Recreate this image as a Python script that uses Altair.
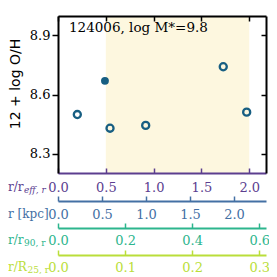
import altair as alt
import pandas as pd

# ---------------- data ----------------
r_open = [0.202, 0.544, 0.917, 1.728, 1.973]
oh_open = [8.499, 8.430, 8.444, 8.740, 8.511]
r_filled = [0.491]
oh_filled = [8.669]
shade_range = [0.5, 2.0]

reff_domain = [0.0, 2.175]
kpc_domain = [0.0, 2.364]
r90_domain = [0.0, 0.62]
r25_domain = [0.0, 0.31]
oh_domain = [8.204, 8.996]

reff_ticks = [0.0, 0.5, 1.0, 1.5, 2.0]
kpc_ticks = [0.0, 0.5, 1.0, 1.5, 2.0]
r90_ticks = [0.0, 0.2, 0.4, 0.6]
r25_ticks = [0.0, 0.1, 0.2, 0.3]
oh_ticks = [8.3, 8.6, 8.9]

annotation = ["124006, log M*=9.8"]
y_title = ["12 + log O/H"]
axis_titles = ["r/r", "r [kpc]", "r/r", "r/R"]
axis_subs = ["eff, r", "", "90, r", "25, r"]

# ---------------- styling ----------------
W, H = 208, 157
SERIF = "DejaVu Serif"
PURPLE = "#5c3e8f"
BLUE = "#4470a4"
GREEN = "#2db58d"
YGREEN = "#bade3a"
PT = "#175e82"
SHADE = "#fdf7df"

axis_colors = [PURPLE, BLUE, GREEN, YGREEN]
axis_offsets = [0, 28, 55, 82]
label_gaps = [8, 7, 6, 6]
title_widths = [15.5, 0, 15.5, 19.0]


def xs(domain):
    return alt.Scale(domain=domain, nice=False, zero=False)


ys = alt.Scale(domain=oh_domain, nice=False, zero=False)


def xaxis(values, color, orient, offset, labels=True, size=5, dw=2, gap=6):
    kw = dict(orient=orient, offset=offset, values=values, grid=False, title=None,
              domainColor=color, domainWidth=dw, tickColor=color, tickWidth=1.5,
              tickSize=size, zindex=2)
    if labels:
        kw.update(labels=True, format=".1f", labelColor=color, labelFont=SERIF,
                  labelFontSize=13, labelBaseline="top", labelPadding=-(size + gap),
                  labelFlush=False, labelOverlap=False, labelAlign="center")
    else:
        kw.update(labels=False)
    return alt.Axis(**kw)


layers = []

# shaded region (carries the purple r/r_eff axis at the bottom, ticks pointing in)
shade = alt.Chart(pd.DataFrame({"x0": [shade_range[0]], "x1": [shade_range[1]]})).mark_rect(
    color=SHADE).encode(
    x=alt.X("x0:Q", scale=xs(reff_domain),
            axis=xaxis(reff_ticks, PURPLE, "top", -H, gap=label_gaps[0])),
    x2="x1:Q",
)
layers.append(shade)

# open points (carry the left y axis)
open_pts = alt.Chart(pd.DataFrame({"r": r_open, "oh": oh_open})).mark_point(
    filled=False, color=PT, strokeWidth=2.3, size=50, opacity=1, shape="circle").encode(
    x=alt.X("r:Q", scale=xs(reff_domain), axis=None),
    y=alt.Y("oh:Q", scale=ys, axis=alt.Axis(
        orient="left", values=oh_ticks, grid=False, title=None, format=".1f",
        domainColor="black", domainWidth=2, tickColor="black", tickWidth=1.5, tickSize=6,
        labelFont=SERIF, labelFontSize=13, labelColor="black", labelPadding=2,
        labelFlush=False, zindex=2)),
)
layers.append(open_pts)

filled_pts = alt.Chart(pd.DataFrame({"r": r_filled, "oh": oh_filled})).mark_circle(
    color=PT, size=62, opacity=1).encode(
    x=alt.X("r:Q", scale=xs(reff_domain), axis=None),
    y=alt.Y("oh:Q", scale=ys, axis=None),
)
layers.append(filled_pts)

# top frame axis (ticks pointing in)
top_axis = alt.Chart(pd.DataFrame({"v": [reff_ticks[0]]})).mark_point(opacity=0).encode(
    x=alt.X("v:Q", scale=xs(reff_domain),
            axis=xaxis(reff_ticks, "black", "bottom", -H, labels=False, dw=2)))
layers.append(top_axis)

# right frame axis (ticks pointing in)
right_axis = alt.Chart(pd.DataFrame({"v": [oh_ticks[1]]})).mark_point(opacity=0).encode(
    y=alt.Y("v:Q", scale=ys, axis=alt.Axis(
        orient="left", offset=-W, values=oh_ticks, labels=False, grid=False, title=None,
        domainColor="black", domainWidth=2, tickColor="black", tickWidth=1.5, tickSize=5,
        zindex=2)))
layers.append(right_axis)

# extra axes below
for dom, ticks, col, off, gap in [(kpc_domain, kpc_ticks, BLUE, axis_offsets[1], label_gaps[1]),
                                  (r90_domain, r90_ticks, GREEN, axis_offsets[2], label_gaps[2]),
                                  (r25_domain, r25_ticks, YGREEN, axis_offsets[3], label_gaps[3])]:
    layers.append(
        alt.Chart(pd.DataFrame({"v": [dom[0]]})).mark_point(opacity=0).encode(
            x=alt.X("v:Q", scale=xs(dom), axis=xaxis(ticks, col, "top", -(H + off), gap=gap))))

# annotation
layers.append(
    alt.Chart(pd.DataFrame({"t": annotation})).mark_text(
        align="left", baseline="middle", font=SERIF, fontSize=13.5, color="black").encode(
        x=alt.value(11), y=alt.value(11.5), text="t:N"))

# y title
layers.append(
    alt.Chart(pd.DataFrame({"t": y_title})).mark_text(
        angle=270, align="center", baseline="middle", font="DejaVu Sans", fontSize=14,
        color="black").encode(x=alt.value(-42), y=alt.value(68), text="t:N"))

# axis row titles
for main, sub, col, off, gap, tw in zip(axis_titles, axis_subs, axis_colors, axis_offsets,
                                        label_gaps, title_widths):
    yrow = H + off + gap + 5.5
    layers.append(
        alt.Chart(pd.DataFrame({"t": [main]})).mark_text(
            align="left", baseline="middle", font=SERIF, fontSize=12, color=col).encode(
            x=alt.value(-50), y=alt.value(yrow), text="t:N"))
    if sub:
        layers.append(
            alt.Chart(pd.DataFrame({"t": [sub]})).mark_text(
                align="left", baseline="middle", font=SERIF, fontSize=9,
                fontStyle="italic" if sub.startswith("eff") else "normal",
                color=col).encode(
                x=alt.value(-50 + tw + 0.5), y=alt.value(yrow + 3.5), text="t:N"))

chart = alt.layer(*layers).resolve_scale(x="independent", y="independent").properties(
    width=W, height=H,
    autosize=alt.AutoSizeParams(type="none"),
    padding={"left": 50, "top": 8, "right": 3, "bottom": 101},
).configure_view(stroke="transparent")

chart.save("out.html", embed_options={"renderer": "svg", "actions": False})
